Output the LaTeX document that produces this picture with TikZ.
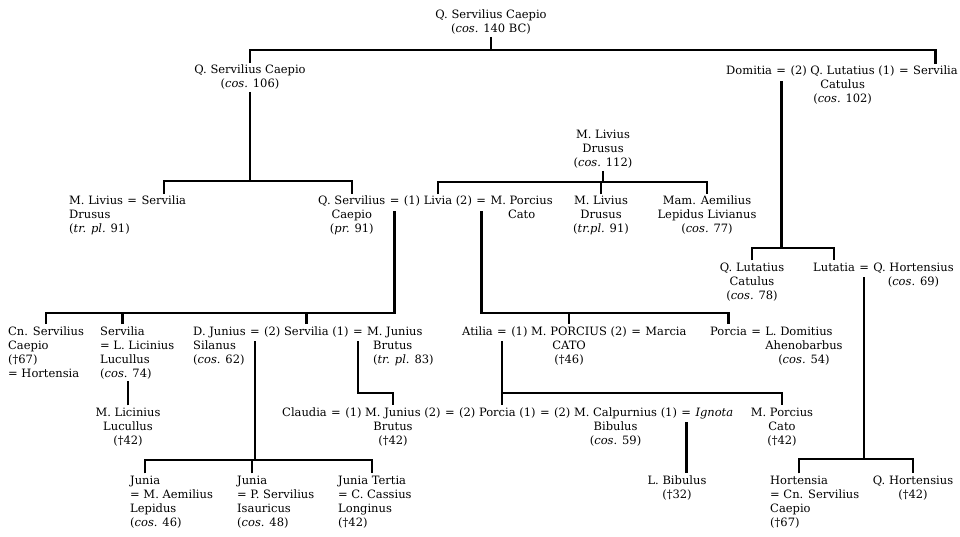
\documentclass[tikz,border=0pt]{standalone}
\usepackage{fontspec}
\setmainfont{DejaVu Serif}

\tikzset{
  kin/.style={line width=2.5pt},
  who/.style={inner sep=2pt, anchor=base},
  whol/.style={inner sep=2pt, anchor=base west},
  wed/.style={whol, text depth=4pt},
  sub/.style={align=center, inner sep=2pt, anchor=base},
  subl/.style={align=left, inner sep=2pt, anchor=base west},
}

\begin{document}
\begin{tikzpicture}[x=1pt, y=-1pt, every node/.style={font=\fontsize{11.5}{14}\selectfont}]
\useasboundingbox (0,0) rectangle (960,537);

% first generations
\node[who] (root) at (491,19) {Q. Servilius Caepio};
\node[sub] (roots) at ([yshift=-14pt]root.base) {(\textit{cos.} 140 BC)};

\node[who] (q106) at (250,74) {Q. Servilius Caepio};
\node[sub] (q106s) at ([yshift=-14pt]q106.base) {(\textit{cos.} 106)};

\node[whol] (domitia) at (724,75) {Domitia};
\node[wed] (eqDL) at (domitia.base east) {=};
\node[whol] (lutatius) at (eqDL.base east) {(2) Q. Lutatius (1)};
\node[sub] (lutatiuss) at ([yshift=-28pt]lutatius.base) {Catulus\\(\textit{cos.} 102)};
\node[wed] (eqLS) at (lutatius.base east) {=};
\node[whol] (servilia) at (eqLS.base east) {Servilia};

\node[who] (drususA) at (603,139) {M. Livius};
\node[sub] (drususAs) at ([yshift=-28pt]drususA.base) {Drusus\\(\textit{cos.} 112)};

% third row
\node[whol] (livius) at (67,205) {M. Livius};
\node[subl] (liviuss) at ([yshift=-28pt]livius.base west) {Drusus\\(\textit{tr. pl.} 91)};
\node[wed] (eqLv) at (livius.base east) {=};
\node[whol] (serviliaA) at (eqLv.base east) {Servilia};

\node[whol] (caepio) at (316,205) {Q. Servilius};
\node[sub] (caepios) at ([yshift=-28pt]caepio.base) {Caepio\\(\textit{pr.} 91)};
\node[wed] (eqSL) at (caepio.base east) {=};
\node[whol] (livia) at (eqSL.base east) {(1) Livia (2)};
\node[wed] (eqLC) at (livia.base east) {=};
\node[whol] (porcius) at (eqLC.base east) {M. Porcius};
\node[sub] (porciuss) at ([yshift=-14pt]porcius.base) {Cato};

\node[who] (drususB) at (601,205) {M. Livius};
\node[sub] (drususBs) at ([yshift=-28pt]drususB.base) {Drusus\\(\textit{tr.pl.} 91)};
\node[who] (lepidus) at (707,205) {Mam. Aemilius};
\node[sub] (lepiduss) at ([yshift=-28pt]lepidus.base) {Lepidus Livianus\\(\textit{cos.} 77)};

\node[who] (catulus) at (752,271) {Q. Lutatius};
\node[sub] (catuluss) at ([yshift=-28pt]catulus.base) {Catulus\\(\textit{cos.} 78)};
\node[whol] (lutatia) at (811,271) {Lutatia};
\node[wed] (eqLH) at (lutatia.base east) {=};
\node[whol] (hortensius) at (eqLH.base east) {Q. Hortensius};
\node[sub] (hortensiuss) at ([yshift=-14pt]hortensius.base) {(\textit{cos.} 69)};

% fourth row
\node[whol] (cnCaepio) at (6,335) {Cn. Servilius};
\node[subl] (cnCaepios) at ([yshift=-42pt]cnCaepio.base west) {Caepio\\(†67)\\= Hortensia};
\node[whol] (serviliaL) at (98,335) {Servilia};
\node[subl] (serviliaLs) at ([yshift=-42pt]serviliaL.base west) {= L. Licinius\\Lucullus\\(\textit{cos.} 74)};

\node[whol] (silanus) at (191,335) {D. Junius};
\node[subl] (silanuss) at ([yshift=-28pt]silanus.base west) {Silanus\\(\textit{cos.} 62)};
\node[wed] (eqJS) at (silanus.base east) {=};
\node[whol] (serviliaB) at (eqJS.base east) {(2) Servilia (1)};
\node[wed] (eqSB) at (serviliaB.base east) {=};
\node[whol] (brutus) at (eqSB.base east) {M. Junius};
\node[subl] (brutuss) at ([xshift=6pt,yshift=-28pt]brutus.base west) {Brutus\\(\textit{tr. pl.} 83)};

\node[whol] (atilia) at (460,335) {Atilia};
\node[wed] (eqAC) at (atilia.base east) {=};
\node[whol] (cato) at (eqAC.base east) {(1) M. PORCIUS (2)};
\node[sub] (catos) at ([yshift=-28pt]cato.base) {CATO\\(†46)};
\node[wed] (eqCM) at (cato.base east) {=};
\node[whol] (marcia) at (eqCM.base east) {Marcia};

\node[whol] (porciaA) at (708,335) {Porcia};
\node[wed] (eqPD) at (porciaA.base east) {=};
\node[whol] (domitius) at (eqPD.base east) {L. Domitius};
\node[sub] (domitiuss) at ([xshift=5pt,yshift=-28pt]domitius.base) {Ahenobarbus\\(\textit{cos.} 54)};

% fifth row
\node[who] (licinius) at (128,416) {M. Licinius};
\node[sub] (liciniuss) at ([yshift=-28pt]licinius.base) {Lucullus\\(†42)};

\node[whol] (claudia) at (280,416) {Claudia};
\node[wed] (eqCB) at (claudia.base east) {=};
\node[whol] (brutusB) at (eqCB.base east) {(1) M. Junius (2)};
\node[sub] (brutusBs) at ([yshift=-28pt]brutusB.base) {Brutus\\(†42)};
\node[wed] (eqBP) at (brutusB.base east) {=};
\node[whol] (porciaB) at (eqBP.base east) {(2) Porcia (1)};
\node[wed] (eqPB) at (porciaB.base east) {=};
\node[whol] (bibulus) at (eqPB.base east) {(2) M. Calpurnius (1)};
\node[sub] (bibuluss) at ([yshift=-28pt]bibulus.base) {Bibulus\\(\textit{cos.} 59)};
\node[wed] (eqBI) at (bibulus.base east) {=};
\node[whol] (ignota) at (eqBI.base east) {\textit{Ignota}};

\node[who] (catoB) at (782,416) {M. Porcius};
\node[sub] (catoBs) at ([yshift=-28pt]catoB.base) {Cato\\(†42)};

% last row
\node[whol] (juniaA) at (128,484) {Junia};
\node[subl] (juniaAs) at ([yshift=-42pt]juniaA.base west) {= M. Aemilius\\Lepidus\\(\textit{cos.} 46)};
\node[whol] (juniaB) at (235,484) {Junia};
\node[subl] (juniaBs) at ([yshift=-42pt]juniaB.base west) {= P. Servilius\\Isauricus\\(\textit{cos.} 48)};
\node[whol] (juniaC) at (336,484) {Junia Tertia};
\node[subl] (juniaCs) at ([yshift=-42pt]juniaC.base west) {= C. Cassius\\Longinus\\(†42)};

\node[who] (bibulusL) at (677,484) {L. Bibulus};
\node[sub] (bibulusLs) at ([yshift=-14pt]bibulusL.base) {(†32)};

\node[whol] (hortensia) at (768,484) {Hortensia};
\node[subl] (hortensias) at ([yshift=-42pt]hortensia.base west) {= Cn. Servilius\\Caepio\\(†67)};
\node[who] (hortensiusB) at (913,484) {Q. Hortensius};
\node[sub] (hortensiusBs) at ([yshift=-14pt]hortensiusB.base) {(†42)};

% bars
\coordinate (b1) at (491,50);
\coordinate (b2) at (250,181);
\coordinate (b3) at (603,182);
\coordinate (b4) at (783,248);
\coordinate (b5) at (200,313);
\coordinate (b6) at (600,313);
\coordinate (b7) at (866,459);
\coordinate (b8) at (257,460);
\coordinate (b9) at (380,393);
\coordinate (b10) at (640,393);

\draw[kin] (roots.south) -- (roots.south |- b1);
\draw[kin] (q106.north) |- (b1) -| (servilia.north);
\draw[kin] (q106s.south) -- (q106s.south |- b2);
\draw[kin] (serviliaA.north) |- (b2) -| (caepio.north);
\draw[kin] (drususAs.south) -- (drususAs.south |- b3);
\draw[kin] (livia.north) |- (b3) -| (lepidus.north);
\draw[kin] (drususB.north) -- (drususB.north |- b3);
\draw[kin] (eqDL.south) -- (eqDL.south |- b4);
\draw[kin] (catulus.north) |- (b4) -| (lutatia.north);
\draw[kin] (cnCaepio.north) |- (b5) -| (eqSL.south);
\draw[kin] (serviliaL.north) -- (serviliaL.north |- b5);
\draw[kin] (serviliaB.north) -- (serviliaB.north |- b5);
\draw[kin] (eqLC.south) |- (b6) -| (porciaA.north);
\draw[kin] (cato.north) -- (cato.north |- b6);
\draw[kin] (eqLH.south) -- (eqLH.south |- b7);
\draw[kin] (hortensia.north) |- (b7) -| (hortensiusB.north);
\draw[kin] (eqJS.south) -- (eqJS.south |- b8);
\draw[kin] (juniaA.north) |- (b8) -| (juniaC.north);
\draw[kin] (juniaB.north) -- (juniaB.north |- b8);
\draw[kin] (eqSB.south) |- (b9) -| (brutusB.north);
\draw[kin] (licinius.north) -- (licinius.north |- serviliaLs.south);
\draw[kin] (eqAC.south) |- (b10) -| (catoB.north);
\draw[kin] (eqAC.south) -- (eqAC.south |- porciaB.north);
\draw[kin] (eqBI.south) -- (eqBI.south |- bibulusL.north);
\end{tikzpicture}
\end{document}
